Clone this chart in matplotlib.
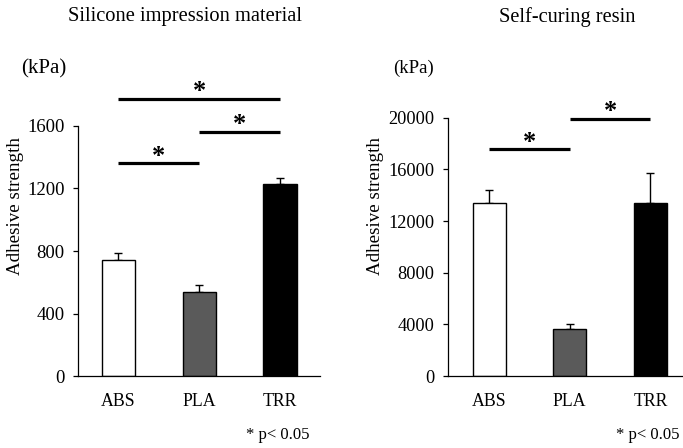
import matplotlib

matplotlib.use("Agg")
import matplotlib.pyplot as plt

plt.rcParams["font.family"] = ["Liberation Serif", "DejaVu Serif"]

CATS = ["ABS", "PLA", "TRR"]
COLORS = ["white", "#5a5a5a", "black"]

# Silicone impression material (kPa)
SIL_MEAN = [740, 540, 1230]
SIL_ERR = [50, 40, 40]
SIL_SIG = [(0, 2, 1775), (1, 2, 1560), (0, 1, 1360)]

# Self-curing resin (kPa)
RES_MEAN = [13400, 3650, 13400]
RES_ERR = [1000, 400, 2300]
RES_SIG = [(0, 1, 17550), (1, 2, 19900)]


def panel(ax, mean, err, sig, ymax, step, tick_fs):
    x = range(len(CATS))
    ax.bar(x, mean, width=0.41, color=COLORS, edgecolor="black", linewidth=1.0, zorder=2)
    ax.errorbar(x, mean, yerr=[[0] * len(err), err], fmt="none", ecolor="black",
                elinewidth=1.0, capsize=3.2, capthick=1.0, zorder=1)
    for a, b, y in sig:
        ax.plot([a, b], [y, y], color="black", lw=2.3, clip_on=False, solid_capstyle="butt")
        ax.annotate("*", xy=((a + b) / 2, y), xytext=(0, -3), textcoords="offset points",
                    ha="center", va="bottom", fontsize=19, fontweight="bold",
                    annotation_clip=False)
    ax.set_ylim(0, ymax)
    ax.set_yticks(range(0, ymax + 1, step))
    ax.set_xticks(list(x), CATS)
    ax.tick_params(axis="x", length=0, pad=12, labelsize=12.8)
    ax.tick_params(axis="y", length=3.6, width=0.9, labelsize=tick_fs, pad=6)
    for s in ("top", "right"):
        ax.spines[s].set_visible(False)
    for s in ("left", "bottom"):
        ax.spines[s].set_linewidth(0.9)
    ax.set_ylabel("Adhesive strength", fontsize=13.7)


fig = plt.figure(figsize=(6.83, 4.48), dpi=100)
W, H = 683, 448

ax1 = fig.add_axes([78 / W, (H - 376) / H, 242 / W, 250 / H])
panel(ax1, SIL_MEAN, SIL_ERR, SIL_SIG, 1600, 400, 13.5)
ax1.set_xlim(-0.50, 2.495)
ax1.yaxis.set_label_coords((24 - 78) / 242, (376 - 206) / 250)

ax2 = fig.add_axes([448 / W, (H - 376) / H, 235 / W, 258.3 / H])
panel(ax2, RES_MEAN, RES_ERR, RES_SIG, 20000, 4000, 13.2)
ax2.set_xlim(-0.51, 2.405)
ax2.yaxis.set_label_coords((384 - 448) / 235, (376 - 206) / 258.3)

fig.text(185 / W, 1 - 17 / H, "Silicone impression material", ha="center", va="center", fontsize=14.8)
fig.text(567 / W, 1 - 17 / H, "Self-curing resin", ha="center", va="center", fontsize=14.7)
fig.text(44 / W, 1 - 69 / H, "(kPa)", ha="center", va="center", fontsize=15)
fig.text(413 / W, 1 - 68 / H, "(kPa)", ha="center", va="center", fontsize=13.5)
fig.text(310 / W, 1 - 435 / H, "* p< 0.05", ha="right", va="center", fontsize=12)
fig.text(680 / W, 1 - 435 / H, "* p< 0.05", ha="right", va="center", fontsize=12)

fig.savefig("out.png", dpi=100)
